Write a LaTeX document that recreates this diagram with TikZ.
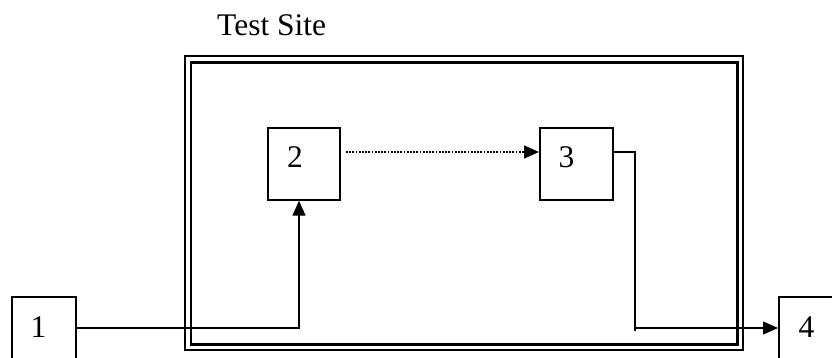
\documentclass[tikz,border=0pt]{standalone}
\usepackage{fontspec}
\setmainfont{Liberation Serif}
\usetikzlibrary{arrows.meta}
\begin{document}
\begin{tikzpicture}[x=1pt,y=-1pt,
  box/.style={draw, line width=1.7pt, inner sep=0pt},
  txt/.style={font=\fontsize{31.5}{36}\selectfont, inner sep=0pt, anchor=base},
  conn/.style={line width=1.4pt},
  tip/.style={-{Triangle[length=15pt,width=13pt]}}]
\useasboundingbox (0,0) rectangle (832,358);
\clip (0,0) rectangle (832,358);
% frame
\node[draw, line width=2pt, inner sep=0pt, minimum width=558pt, minimum height=293.5pt, anchor=north west] (outer) at (183.5,55) {};
\node[draw, line width=2.6pt, inner sep=0pt, minimum width=546.5pt, minimum height=281.5pt, anchor=north west] (inner) at (189.5,61.5) {};
\node[txt, anchor=base west] (title) at (217,36) {Test Site};
% boxes
\node[box, minimum width=64pt, minimum height=80pt, anchor=north west] (b1) at (11,296) {};
\node[box, minimum width=72pt, minimum height=72pt, anchor=north west] (b2) at (267,127) {};
\node[box, minimum width=73pt, minimum height=72pt, anchor=north west] (b3) at (539,127) {};
\node[box, minimum width=70pt, minimum height=80pt, anchor=north west] (b4) at (778,296) {};
\node[txt] (t1) at (38.5,337) {1};
\node[txt] (t2) at (295,168) {2};
\node[txt] (t3) at (566.5,168) {3};
\node[txt] (t4) at (806.5,337) {4};
% connectors
\coordinate (c1) at (b1.east |- 0,328);
\coordinate (c2) at (299,328);
\draw[conn, tip] (c1) -- (c2) -- (c2 |- b2.south);
\coordinate (d1) at (346,152);
\draw[conn, tip, dash pattern=on 1.8pt off 1.4pt] (d1) -- (b3.west |- d1);
\coordinate (e1) at (b3.east |- 0,152);
\coordinate (e2) at (635,152);
\coordinate (e3) at (635,330.5);
\coordinate (e4) at (635,328);
\draw[conn] (e1) -- (e2) -- (e3);
\draw[conn, tip] (e4) -- (b4.west |- e4);
\end{tikzpicture}
\end{document}
